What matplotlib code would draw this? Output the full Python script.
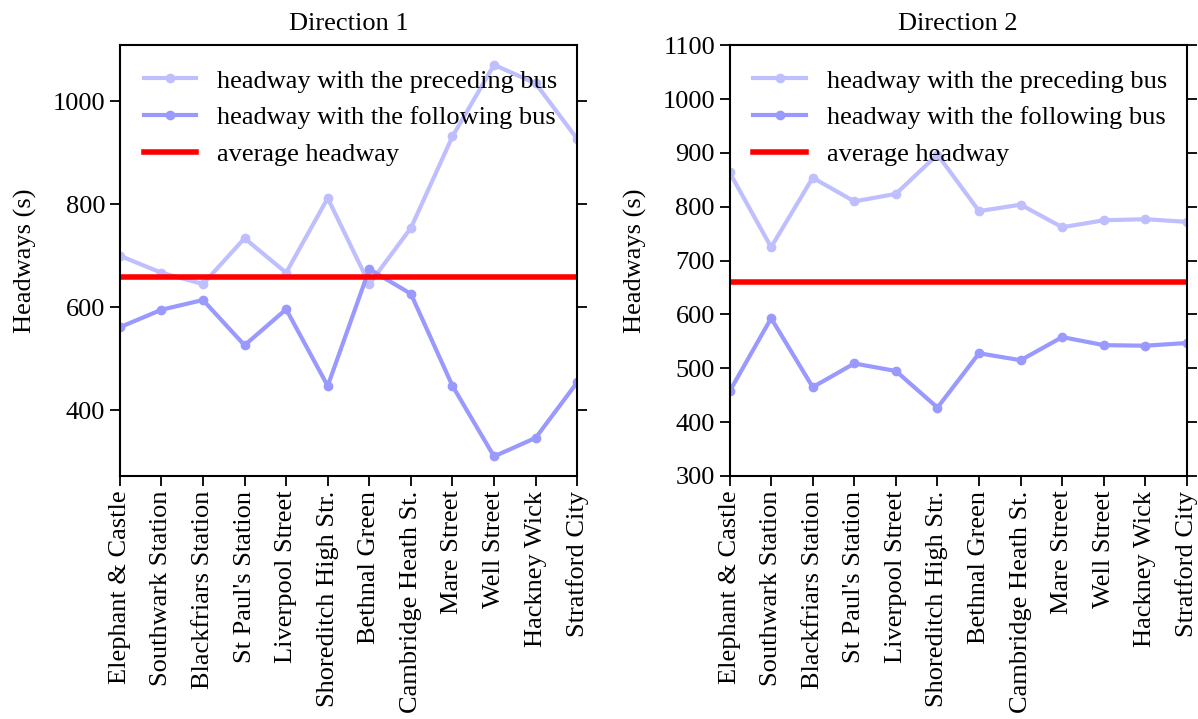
import matplotlib
matplotlib.use("Agg")
import matplotlib.pyplot as plt

stops = ["Elephant & Castle", "Southwark Station", "Blackfriars Station",
         "St Paul's Station", "Liverpool Street", "Shoreditch High Str.",
         "Bethnal Green", "Cambridge Heath St.", "Mare Street", "Well Street",
         "Hackney Wick", "Stratford City"]

# Direction 1
d1_preceding = [700, 667, 645, 734, 667, 812, 645, 754, 932, 1071, 1035, 927]
d1_following = [561, 595, 614, 526, 596, 447, 674, 626, 447, 310, 346, 454]
d1_average = 658

# Direction 2
d2_preceding = [864, 725, 854, 810, 824, 897, 792, 804, 762, 775, 777, 772]
d2_following = [457, 593, 465, 509, 495, 427, 528, 515, 558, 543, 542, 547]
d2_average = 660

plt.rcParams["font.family"] = ["Liberation Serif", "DejaVu Serif"]
plt.rcParams["font.size"] = 19
plt.rcParams["axes.linewidth"] = 1.5

fig, axes = plt.subplots(1, 2, figsize=(11.98, 7.19), dpi=100)
fig.subplots_adjust(left=0.100, right=0.9908, top=0.937, bottom=0.338, wspace=0.333)

panels = [
    (axes[0], "Direction 1", d1_preceding, d1_following, d1_average),
    (axes[1], "Direction 2", d2_preceding, d2_following, d2_average),
]

for ax, title, prec, foll, avg in panels:
    x = range(len(stops))
    ax.plot(x, prec, "-o", color="#bfbfff", lw=3, ms=6,
            label="headway with the preceding bus")
    ax.plot(x, foll, "-o", color="#9999ff", lw=3, ms=6,
            label="headway with the following bus")
    ax.axhline(avg, color="red", lw=4, label="average headway")
    ax.set_xticks(list(x))
    ax.set_xticklabels(stops, rotation=90)
    ax.margins(x=0)
    ax.set_title(title, fontsize=19, pad=11)
    ax.set_ylabel("Headways (s)", fontsize=19, labelpad=11)
    ax.tick_params(right=True, direction="out", labelsize=19, length=7, width=1.3)
    ax.legend(loc="upper left", frameon=False, fontsize=19)

axes[0].set_yticks([400, 600, 800, 1000])
axes[1].set_ylim(300, 1100)
axes[1].set_yticks(range(300, 1101, 100))

fig.savefig("out.png", dpi=100)
